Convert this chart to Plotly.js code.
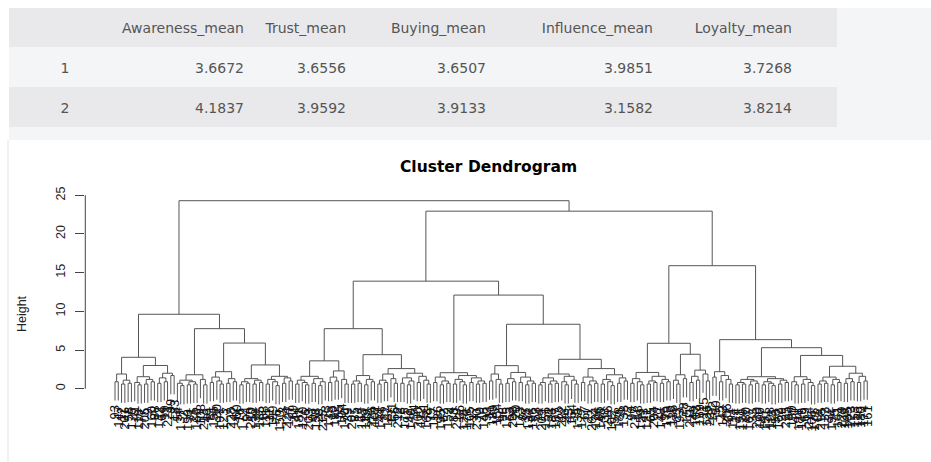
<!DOCTYPE html>
<html><head><meta charset="utf-8">
<script src="https://cdn.plot.ly/plotly-3.0.1.min.js"></script>
<style>html,body{margin:0;padding:0;background:#fff;}#chart{width:931px;height:462px;}</style>
</head><body><div id="chart"></div>
<script>
// ---------- table data ----------
const tableHeader = ['', 'Awareness_mean', 'Trust_mean', 'Buying_mean', 'Influence_mean', 'Loyalty_mean', ''];
const clusterIds = [1, 2];
const awarenessMean = ['3.6672', '4.1837'];
const trustMean = ['3.6556', '3.9592'];
const buyingMean = ['3.6507', '3.9133'];
const influenceMean = ['3.9851', '3.1582'];
const loyaltyMean = ['3.7268', '3.8214'];

// ---------- dendrogram data: node = [height, left, right], leaf = observation label ----------
const clusterA1a = [1.9, [0.9, 93, 147], [1.1, [0.6, 12, 201], [0.7, 58, 176]]];
const clusterA1b = [3.0, [1.55, [0.8, 41, [0.5, 118, 77]], [1.2, [0.6, 205, 9], [0.9, 160, 88]]],
                         [2.0, [1.4, [0.7, 132, 64], [0.9, 19, 221]], [1.7, 99, 183]]];
const clusterA2a = [1.8, [1.1, [0.7, 54, [0.4, 137, 2]], [0.9, [0.5, 190, 71], [0.6, 25, 166]]], [1.2, 108, [0.5, 213, 46]]];
const clusterA2b1 = [2.2, [1.5, [0.8, 81, 155], [1.0, 30, [0.6, 197, 123]]], [1.3, [0.7, 7, 228], [0.9, 142, 60]]];
const clusterA2b2 = [3.07, [1.3, [0.9, [0.5, 16, 172], [0.7, 94, 210]], [1.1, [0.6, 52, 139], [0.8, 185, 68]]],
                           [1.6, [1.2, [0.6, 111, 37], [0.9, 199, [0.4, 76, 150]]], [1.4, [0.7, 3, 224], [1.0, 127, 89]]]];
const clusterB1a = [3.6, [1.6, [1.1, [0.6, 44, 181], [0.8, 120, [0.5, 6, 203]]], [1.3, [0.7, 97, 158], [0.9, [0.4, 28, 215], 73]]],
                         [2.3, [1.5, [0.8, 135, 10], [1.0, 192, 55]], [1.2, 104, [0.6, 170, 39]]]];
const clusterB1b = [4.4, [1.7, [1.0, [0.6, 207, 85], [0.7, 14, 163]], [1.2, [0.5, 119, 48], [0.9, 226, 101]]],
                         [2.6, [1.9, [1.1, [0.6, 59, 144], [0.8, 22, 187]], [1.3, 131, [0.7, 66, 212]]],
                               [2.0, [1.4, [0.7, 8, 175], [1.0, [0.5, 91, 140], 34]], [1.6, [0.8, 200, 112], [1.1, 51, [0.6, 168, 79]]]]]];
const clusterB2a = [2.07, [1.5, [0.8, 117, 26], [1.0, [0.5, 195, 62], [0.7, 152, 4]]],
                          [1.7, [1.2, [0.6, 83, 219], [0.9, 36, [0.5, 128, 178]]], [1.4, [0.8, 105, 17], [1.0, [0.6, 230, 70], [0.7, 146, 92]]]]];
const clusterB2b1 = [2.98, [1.9, [1.0, 11, 189], [1.2, 154, [0.6, 42, 98]]],
                           [2.1, [1.3, [0.7, 125, 63], [0.9, 208, 20]], [1.5, [0.8, 173, 87], [1.0, [0.5, 35, 134], [0.7, 196, 53]]]]];
const clusterB2b2a = [1.9, [1.4, [0.8, [0.5, 74, 209], 156], [1.0, [0.6, 31, 186], [0.7, 107, 13]]],
                           [1.6, [0.9, 222, [0.5, 96, 45]], [1.1, 164, [0.6, 5, 138]]]];
const clusterB2b2b = [2.6, [1.5, [0.8, 177, 67], [1.0, [0.5, 21, 202], [0.7, 124, 86]]],
                           [1.8, [1.2, [0.6, 145, 38], [0.9, 216, [0.4, 102, 57]]], [1.4, [0.7, 188, 1], [1.0, 133, 72]]]];
const clusterC1a = [2.1, [1.3, [0.7, 90, 217], [0.9, 18, [0.5, 159, 43]]],
                         [1.6, [1.0, [0.6, 121, 65], [0.8, 204, 27]], [1.2, [0.7, 148, 95], [0.9, 179, 110]]]];
const clusterC1b = [4.45, [1.8, [1.1, 136, [0.6, 23, 193]], [1.3, 78, 157]],
                          [2.4, [1.6, [0.8, 211, 49], [1.1, 103, 169]], [1.9, 115, [1.0, 126, 227]]]];
const clusterC2a = [2.2, [1.5, 182, 50], [1.7, [0.9, 15, 143], [1.2, 206, [0.6, 61, 114]]]];
const clusterC2b1 = [1.55, [1.2, [0.8, [0.5, 24, 191], [0.6, 129, 80]], [1.0, [0.5, 167, 33], [0.7, 220, 100]]],
                           [1.3, [0.9, [0.5, 47, 151], [0.7, 198, [0.4, 113, 56]]], [1.1, [0.6, 162, 29], [0.8, 225, 84]]]];
const clusterC2b2a = [1.55, [0.9, 130, [0.5, 40, 184]], [1.2, [0.6, 149, 69], [0.8, 214, [0.4, 106, 171]]]];
const clusterC2b2b = [2.9, [1.5, [1.0, [0.6, 82, 218], [0.7, 122, 32]], [1.2, [0.5, 194, 75], [0.8, 141, 229]]],
                           [2.0, [1.3, [0.7, 109, 165], [0.9, 223, 153]], [1.6, [0.8, 116, 180], [1.0, 174, 161]]]];

// upper merges
const clusterA = [9.62, [4.06, clusterA1a, clusterA1b], [7.76, clusterA2a, [5.9, clusterA2b1, clusterA2b2]]];
const clusterB = [13.9, [7.76, clusterB1a, clusterB1b], [12.1, clusterB2a, [8.33, clusterB2b1, [3.8, clusterB2b2a, clusterB2b2b]]]];
const clusterC = [15.9, [5.87, clusterC1a, clusterC1b], [6.34, clusterC2a, [5.3, clusterC2b1, [4.3, clusterC2b2a, clusterC2b2b]]]];
const rootNode = [24.3, clusterA, [22.95, clusterB, clusterC]];

const yTicks = [0, 5, 10, 15, 20, 25];

// ---------- build ----------
const W = 931, H = 462;
const px = v => v / W, py = v => 1 - v / H;
const hang = 0.1 * rootNode[0];
let leafCounter = 0;
const segX = [], segY = [], leafX = [], leafBottom = [], leafLabel = [];
function place(node, parentH) {
  if (typeof node === 'number') {
    const x = leafCounter++;
    leafX.push(x); leafBottom.push(parentH - hang); leafLabel.push(node);
    return {x: x, bottom: parentH - hang};
  }
  const h = node[0];
  const L = place(node[1], h), R = place(node[2], h);
  segX.push(L.x, L.x, R.x, R.x, null);
  segY.push(L.bottom, h, h, R.bottom, null);
  return {x: (L.x + R.x) / 2, bottom: h};
}
place(rootNode, rootNode[0]);

const labelAnnotations = leafLabel.map((lab, i) => ({
  x: leafX[i], y: leafBottom[i], xref: 'x', yref: 'y', text: String(lab),
  textangle: -90, showarrow: false, xanchor: 'center', yanchor: 'top', yshift: -3,
  font: {family: 'Liberation Sans', size: 13, color: '#111'}
}));

const cellCols = [clusterIds, awarenessMean, trustMean, buyingMean, influenceMean, loyaltyMean, ['', '']];
const txtFont = {family: 'DejaVu Sans', size: 14, color: '#555'};
const clear = 'rgba(0,0,0,0)';

// table text is drawn on transparent cells; the row bands are layout shapes behind it
const tableTrace = {
  type: 'table',
  domain: {x: [px(9), px(837)], y: [py(136), py(14)]},
  columnwidth: [112, 131, 102, 140, 167, 139, 37],
  header: {values: tableHeader, align: ['center', 'right', 'right', 'right', 'right', 'right', 'right'],
           height: 40, fill: {color: clear}, font: txtFont, line: {width: 0, color: clear}},
  cells: {values: cellCols, align: ['center', 'right', 'right', 'right', 'right', 'right', 'right'],
          height: 40, fill: {color: clear}, font: txtFont, line: {width: 0, color: clear}}
};

const dendroTrace = {
  type: 'scatter', mode: 'lines', x: segX, y: segY, connectgaps: false,
  line: {color: '#555', width: 1}, hoverinfo: 'skip', xaxis: 'x', yaxis: 'y'
};

const band = (y0, y1, c) => ({type: 'rect', xref: 'paper', yref: 'paper', x0: px(9), x1: px(837),
  y0: py(y1), y1: py(y0), fillcolor: c, line: {width: 0}, layer: 'below'});

const layout = {
  width: W, height: H, margin: {l: 0, r: 0, t: 0, b: 0},
  paper_bgcolor: '#ffffff', plot_bgcolor: 'rgba(0,0,0,0)', showlegend: false,
  title: {text: 'Cluster Dendrogram', x: px(488.5), xanchor: 'center', xref: 'paper',
          y: py(166.7), yanchor: 'middle', yref: 'paper',
          font: {family: 'DejaVu Sans', size: 15.5, weight: 700, color: '#000'}},
  xaxis: {domain: [px(85.3), px(900)], range: [-9.04, 238.96], visible: false, fixedrange: true},
  yaxis: {domain: [py(438), py(190)], range: [-6.373, 25.685], tickvals: yTicks,
          ticks: 'outside', ticklen: 9, tickcolor: '#444', tickwidth: 1, tickangle: -90,
          ticklabelstandoff: 5,
          tickfont: {family: 'Liberation Sans', size: 12.5, color: '#222'},
          showgrid: false, zeroline: false, showline: false,
          title: {text: 'Height', font: {family: 'Liberation Sans', size: 12.5, color: '#222'}, standoff: 24}},
  shapes: [
    {type: 'rect', xref: 'paper', yref: 'paper', x0: px(9), x1: 1, y0: py(140), y1: py(8),
     fillcolor: '#f4f5f7', line: {width: 0}, layer: 'below'},
    band(8, 47, '#e9e9eb'),
    band(47, 87, '#f4f5f7'),
    band(87, 127, '#e9e9eb'),
    {type: 'line', xref: 'paper', yref: 'paper', x0: px(8), x1: px(8), y0: 0, y1: py(140),
     line: {color: '#e3e3e3', width: 1}, layer: 'below'},
    {type: 'line', xref: 'paper', yref: 'y', x0: px(85.3), x1: px(85.3), y0: 0, y1: 25,
     line: {color: '#444', width: 1}}
  ],
  annotations: labelAnnotations
};

Plotly.newPlot('chart', [tableTrace, dendroTrace], layout, {displayModeBar: false, staticPlot: true});
</script>
</body></html>
